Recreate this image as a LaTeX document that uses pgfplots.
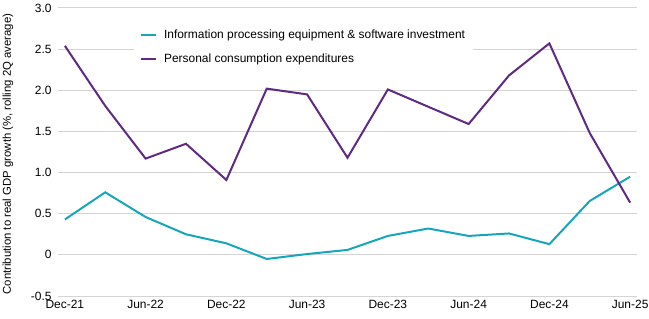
\documentclass[border=0pt]{standalone}
\usepackage{pgfplots}
\pgfplotsset{compat=1.18}
\usepackage{fontspec}
\setmainfont{Liberation Sans}
\definecolor{tealc}{RGB}{22,166,188}
\definecolor{purplec}{RGB}{94,42,132}
\definecolor{gridc}{RGB}{212,212,212}
\begin{document}
\begin{tikzpicture}
\begin{axis}[
  scale only axis,
  width=579bp, height=288bp,
  xmin=-0.17, xmax=14.17,
  ymin=-0.5, ymax=3.0,
  axis line style={draw=none},
  major tick length=0pt,
  xtick={0,2,...,14},
  xticklabels={Dec-21,Jun-22,Dec-22,Jun-23,Dec-23,Jun-24,Dec-24,Jun-25},
  ytick={-0.5,0,0.5,1.0,1.5,2.0,2.5,3.0},
  yticklabels={-0.5,0,0.5,1.0,1.5,2.0,2.5,3.0},
  ymajorgrids,
  grid style={gridc, line width=1bp},
  tick label style={font=\fontsize{12}{14}\selectfont},
  yticklabel style={xshift=-3bp},
  xticklabel style={yshift=-1bp},
  ylabel={Contribution to real GDP growth (\%, rolling 2Q average)},
  ylabel style={at={(axis description cs:-0.0864,0.493)}, anchor=center, font=\fontsize{11.4}{13}\selectfont},
  legend style={draw=none, fill=white, at={(0.131,0.945)}, anchor=north west,
    font=\fontsize{12}{14}\selectfont, row sep=10bp, column sep=5bp, inner xsep=6bp, inner ysep=4bp},
  legend cell align=left,
  legend image code/.code={\draw[#1] (0bp,0bp) -- (15bp,0bp);},
]
\addplot[tealc, line width=2bp] coordinates {
(0,0.43) (1,0.76) (2,0.46) (3,0.25) (4,0.14) (5,-0.05) (6,0.01) (7,0.06)
(8,0.23) (9,0.32) (10,0.23) (11,0.26) (12,0.13) (13,0.655) (14,0.95)};
\addlegendentry{Information processing equipment \& software investment}
\addplot[purplec, line width=2bp] coordinates {
(0,2.54) (1,1.81) (2,1.17) (3,1.35) (4,0.91) (5,2.02) (6,1.95) (7,1.18)
(8,2.01) (9,1.80) (10,1.59) (11,2.18) (12,2.57) (13,1.48) (14,0.635)};
\addlegendentry{Personal consumption expenditures}
\end{axis}
\pgfresetboundingbox
\path (-58bp,-23bp) rectangle (591bp,296bp);
\end{tikzpicture}
\end{document}
